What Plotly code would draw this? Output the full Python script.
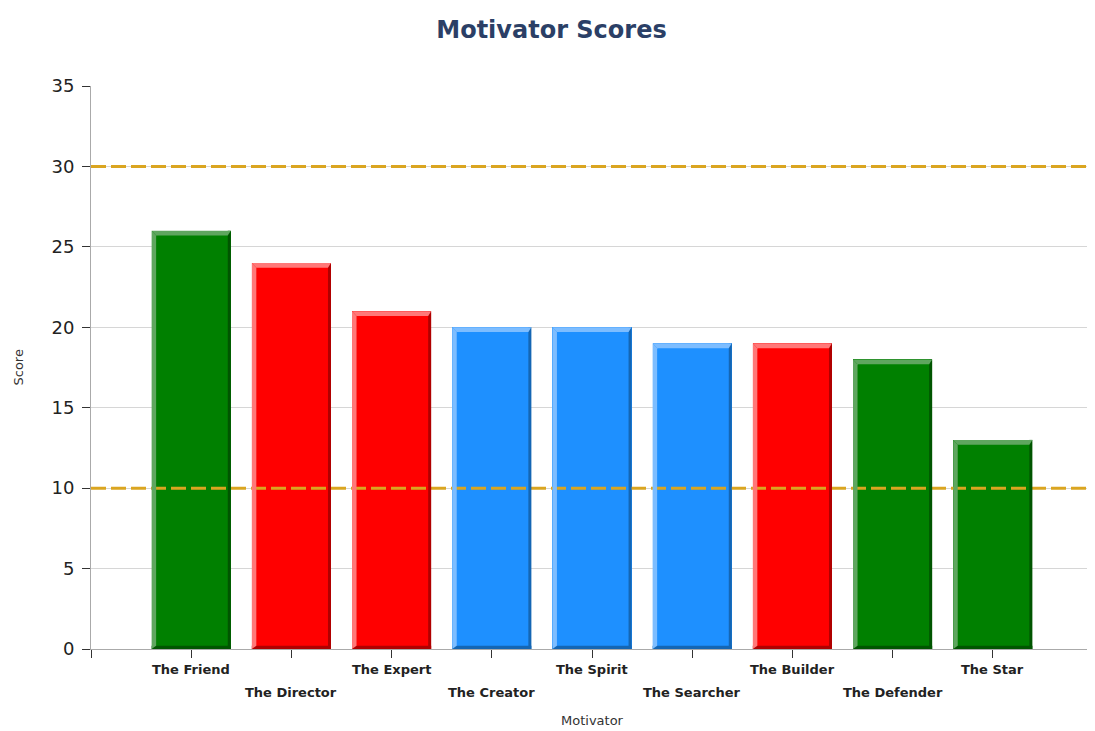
import plotly.graph_objects as go

categories = ["The Friend", "The Director", "The Expert", "The Creator", "The Spirit",
              "The Searcher", "The Builder", "The Defender", "The Star"]
scores = [26, 24, 21, 20, 20, 19, 19, 18, 13]
groups = ["green", "red", "red", "blue", "blue", "blue", "red", "green", "green"]
thresholds = [10, 30]
y_ticks = [0, 5, 10, 15, 20, 25, 30, 35]

base_col = {"green": "#008000", "red": "#FF0000", "blue": "#1E90FF"}
light_col = {"green": "#5FA65F", "red": "#FF7878", "blue": "#7DBDFF"}
dark_col = {"green": "#005500", "red": "#B00000", "blue": "#1466B4"}

positions = list(range(len(categories)))
bar_w = 0.79
x_lo, x_hi = -1, len(categories)

fig = go.Figure()
for t in thresholds:
    fig.add_trace(go.Scatter(
        x=[x_lo, x_hi], y=[t, t], mode="lines",
        line=dict(color="#DAA520", width=3, dash="15px,5px"),
        hoverinfo="skip", showlegend=False, cliponaxis=False,
    ))
fig.add_trace(go.Bar(
    x=positions, y=scores, width=bar_w,
    marker=dict(color=[base_col[g] for g in groups], line=dict(width=0)),
    hoverinfo="skip", showlegend=False,
))

shapes = []
ex = 0.045
ey = 0.3
for p, v, g in zip(positions, scores, groups):
    x0, x1 = p - bar_w / 2, p + bar_w / 2
    shapes.append(dict(type="rect", xref="x", yref="y", x0=x1 - 0.03, x1=x1, y0=0, y1=v,
                       fillcolor=dark_col[g], line=dict(width=0), layer="above"))
    shapes.append(dict(type="rect", xref="x", yref="y", x0=x0, x1=x1, y0=0, y1=0.2,
                       fillcolor=dark_col[g], line=dict(width=0), layer="above"))
    shapes.append(dict(type="path", xref="x", yref="y",
                       path=f"M {x0} 0 L {x0} {v} L {x0+ex} {v-ey} L {x0+ex} 0.2 Z",
                       fillcolor=light_col[g], line=dict(width=0), layer="above"))
    shapes.append(dict(type="path", xref="x", yref="y",
                       path=f"M {x0} {v} L {x1} {v} L {x1-0.03} {v-ey} L {x0+ex} {v-ey} Z",
                       fillcolor=light_col[g], line=dict(width=0), layer="above"))

annotations = []
for i, (p, c) in enumerate(zip(positions, categories)):
    annotations.append(dict(x=p, y=0, xref="x", yref="y", text=f"<b>{c}</b>", showarrow=False,
                            xanchor="center", yanchor="middle", yshift=-20 if i % 2 == 0 else -43,
                            font=dict(family="DejaVu Sans", size=13, color="#222222")))
annotations.append(dict(x=0.5, y=0, xref="paper", yref="paper", text="Motivator", showarrow=False,
                        xanchor="center", yanchor="middle", yshift=-71,
                        font=dict(family="DejaVu Sans", size=13, color="#333333")))
annotations.append(dict(x=0, y=0.5, xref="paper", yref="paper", text="Score", showarrow=False,
                        textangle=-90, xanchor="center", yanchor="middle", xshift=-73,
                        font=dict(family="DejaVu Sans", size=13, color="#333333")))

tickvals = [x_lo] + positions + [x_hi]

fig.update_layout(
    width=1087, height=723,
    margin=dict(l=83, r=2, t=78, b=82, autoexpand=False),
    paper_bgcolor="white", plot_bgcolor="white",
    title=dict(text="<b>Motivator Scores</b>", x=0.5, xanchor="center", y=1 - 22 / 723, yanchor="middle",
               font=dict(family="DejaVu Sans", size=24, color="#2B3F66")),
    shapes=shapes,
    annotations=annotations,
    bargap=0,
    xaxis=dict(
        range=[x_lo, x_hi], tickmode="array", tickvals=tickvals,
        ticktext=[""] * len(tickvals), automargin=False,
        showgrid=False, zeroline=False, showline=True, linecolor="#AAAAAA", linewidth=1,
        ticks="outside", ticklen=8, tickcolor="#333333",
    ),
    yaxis=dict(
        range=[0, 35], tickmode="array", tickvals=y_ticks, automargin=False,
        showgrid=True, gridcolor="#D6D6D6", gridwidth=1, zeroline=False,
        showline=True, linecolor="#AAAAAA", linewidth=1,
        ticks="outside", ticklen=8, tickcolor="#333333", ticklabelstandoff=4,
        tickfont=dict(family="DejaVu Sans", size=18, color="#222222"),
    ),
)

fig.write_html("out.html")
